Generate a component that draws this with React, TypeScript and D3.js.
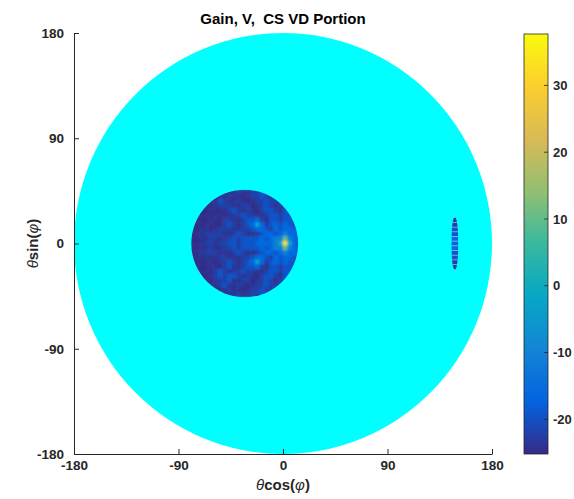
import React, { useEffect, useRef } from 'react'
import * as d3 from 'd3'

// svg size
const svgWidth = 574
const svgHeight = 499

const titleText = 'Gain, V,  CS VD Portion'
const axisTicks = [-180, -90, 0, 90, 180]
const colorTicks = [-20, -10, 0, 10, 20, 30]
const colorDomain = [-25.2, 37.7]

// the whole visible region (drawn cyan, no data)
const outerRadius = 180

// inner gain disk in 4 degree cells
const innerCenter = [-33, 0]
const innerRadius = 46
const cellSize = 4
const gridXStart = -78 // centre of first column
const gridYStart = 44 // centre of first row
const levelValues: Record<string, number> = {
  a: -25.2, b: -24.3, c: -22.5, d: -19.5, e: -16, f: -11, g: -3, h: 10, i: 24, j: 33,
}
const innerRows = [
  'aaaaaaaabbcbbccdccdddddd',
  'aaaaaabbcbbabccdccdddddd',
  'aaaabbdcbbcbabccdcccdddd',
  'aaaaabcccbbccabcdcbcdddd',
  'aaaabaabcdcbcbacddcbdddd',
  'aaababbabccdccbbcddcdddd',
  'aaaabbaccbbcddecbddcdddd',
  'aaabbaacdcbcdegecdededdd',
  'aabbabcccbbccdeedcedeedd',
  'abbccccbbcdcbbcdeedefeed',
  'aabbccbccdcddddedeffhfed',
  'aabccbccddcdddeeeefgjged',
  'aabbcbbccdcddddedeffhfed',
  'abbcccbbbcdcbbcdeedefeed',
  'aabbbbccbbbccdeedcedeedd',
  'aaabbabcdcbcdegecdededdd',
  'aaaabbacdbbcddecbddcdddd',
  'aaabacdcbccdccbbcddcdddd',
  'aaaabcdcddcbcbacddcbdddd',
  'aaaaabccdbbccabcdcbcdddd',
  'aaaabbcdbbcbabccdcccdddd',
  'aaaaaabbcbbabccdccdddddd',
  'aaaaaaaabbcbbccdccdddddd',
]

// small lens on the right side
const lensCenter = [148, 0]
const lensRadii = [3, 23]
const lensYStart = 20
const lensCells = 'ccddeeeddcc'

// parula colormap stops (bottom to top)
const parula = ['#352a87', '#0363e1', '#1485d4', '#06a7c6', '#38b99e', '#92bf73', '#d9ba56', '#fcce2e', '#f9fb0e']

const fontFamily = "'Liberation Sans', Arial, Helvetica, sans-serif"
const ink = '#262626'

function App() {
  const ref = useRef<SVGSVGElement>(null)

  useEffect(() => {
    const svg = d3.select(ref.current)
    svg.selectAll('*').remove()

    const x = d3.scaleLinear().domain([-180, 180]).range([74, 492])
    const y = d3.scaleLinear().domain([-180, 180]).range([454, 33])
    const cb = d3.scaleLinear().domain(colorDomain).range([454, 34])

    const n = parula.length
    const colour = d3.scaleLinear<string>()
      .domain(parula.map((_, i) => colorDomain[0] + (i / (n - 1)) * (colorDomain[1] - colorDomain[0])))
      .range(parula)
      .clamp(true)

    const defs = svg.append('defs')
    defs.append('clipPath').attr('id', 'innerClip')
      .append('ellipse')
      .attr('cx', x(innerCenter[0]))
      .attr('cy', y(innerCenter[1]))
      .attr('rx', x(innerCenter[0] + innerRadius) - x(innerCenter[0]))
      .attr('ry', y(innerCenter[1]) - y(innerCenter[1] + innerRadius))
    defs.append('clipPath').attr('id', 'lensClip')
      .append('ellipse')
      .attr('cx', x(lensCenter[0]))
      .attr('cy', y(lensCenter[1]))
      .attr('rx', x(lensCenter[0] + lensRadii[0]) - x(lensCenter[0]))
      .attr('ry', y(lensCenter[1]) - y(lensCenter[1] + lensRadii[1]))
    defs.append('filter').attr('id', 'soft')
      .attr('x', '-10%').attr('y', '-10%').attr('width', '120%').attr('height', '120%')
      .append('feGaussianBlur').attr('stdDeviation', 1.0)

    const grad = defs.append('linearGradient').attr('id', 'cbGrad')
      .attr('x1', 0).attr('y1', 1).attr('x2', 0).attr('y2', 0)
    parula.forEach((c, i) => {
      grad.append('stop').attr('offset', i / (n - 1)).attr('stop-color', c)
    })

    // outer cyan disk
    svg.append('ellipse')
      .attr('cx', x(0))
      .attr('cy', y(0))
      .attr('rx', x(outerRadius) - x(0))
      .attr('ry', y(0) - y(outerRadius))
      .attr('fill', '#00ffff')

    // inner gain disk
    const cells: { xc: number; yc: number; v: number }[] = []
    innerRows.forEach((row, r) => {
      row.split('').forEach((ch, c) => {
        cells.push({ xc: gridXStart + c * cellSize, yc: gridYStart - r * cellSize, v: levelValues[ch] })
      })
    })
    const half = cellSize / 2
    svg.append('g').attr('clip-path', 'url(#innerClip)')
      .append('g').attr('filter', 'url(#soft)')
      .selectAll('rect')
      .data(cells)
      .enter()
      .append('rect')
      .attr('x', (d) => x(d.xc - half))
      .attr('y', (d) => y(d.yc + half))
      .attr('width', (d) => x(d.xc + half) - x(d.xc - half))
      .attr('height', (d) => y(d.yc - half) - y(d.yc + half))
      .attr('fill', (d) => colour(d.v))
      .attr('stroke', (d) => colour(d.v))
      .attr('stroke-width', 0.5)

    // lens
    const lens = svg.append('g').attr('clip-path', 'url(#lensClip)')
    const lensData = lensCells.split('').map((ch, i) => ({ yc: lensYStart - i * cellSize, v: levelValues[ch] }))
    lens.selectAll('rect')
      .data(lensData)
      .enter()
      .append('rect')
      .attr('x', x(lensCenter[0] - lensRadii[0]))
      .attr('width', x(lensCenter[0] + lensRadii[0]) - x(lensCenter[0] - lensRadii[0]))
      .attr('y', (d) => y(d.yc + half))
      .attr('height', (d) => y(d.yc - half) - y(d.yc + half))
      .attr('fill', (d) => colour(d.v))
    lens.selectAll('line')
      .data(lensData.slice(1))
      .enter()
      .append('line')
      .attr('x1', x(lensCenter[0] - lensRadii[0]))
      .attr('x2', x(lensCenter[0] + lensRadii[0]))
      .attr('y1', (d) => y(d.yc + half))
      .attr('y2', (d) => y(d.yc + half))
      .attr('stroke', '#ffffff')
      .attr('stroke-opacity', 0.6)
      .attr('stroke-width', 0.7)

    // axes
    const fmt = (d: d3.NumberValue) => String(d)
    const xAxis = d3.axisBottom(x).tickValues(axisTicks).tickFormat(fmt).tickSize(-5).tickSizeOuter(0).tickPadding(6)
    const yAxis = d3.axisLeft(y).tickValues(axisTicks).tickFormat(fmt).tickSize(-5).tickSizeOuter(0).tickPadding(10)

    const gx = svg.append('g').attr('transform', `translate(0,${y(-180)})`).call(xAxis)
    const gy = svg.append('g').attr('transform', `translate(${x(-180)},0)`).call(yAxis)
    ;[gx, gy].forEach((g) => {
      g.selectAll('path, line').attr('stroke', ink).attr('stroke-width', 1)
      g.selectAll('text')
        .attr('fill', ink)
        .attr('font-family', fontFamily)
        .attr('font-weight', 'bold')
        .attr('font-size', 13.5)
    })

    // colourbar
    const cbX = 524
    const cbW = 24
    svg.append('rect')
      .attr('x', cbX)
      .attr('y', cb(colorDomain[1]))
      .attr('width', cbW)
      .attr('height', cb(colorDomain[0]) - cb(colorDomain[1]))
      .attr('fill', 'url(#cbGrad)')
      .attr('stroke', ink)
      .attr('stroke-width', 0.8)
    svg.selectAll('.cbtick')
      .data(colorTicks)
      .enter()
      .append('line')
      .attr('x1', cbX + cbW - 4)
      .attr('x2', cbX + cbW)
      .attr('y1', (d) => cb(d))
      .attr('y2', (d) => cb(d))
      .attr('stroke', ink)
      .attr('stroke-width', 0.8)
    svg.selectAll('.cblabel')
      .data(colorTicks)
      .enter()
      .append('text')
      .attr('x', cbX + cbW + 5)
      .attr('y', (d) => cb(d))
      .attr('dy', '0.35em')
      .attr('fill', ink)
      .attr('font-family', fontFamily)
      .attr('font-weight', 'bold')
      .attr('font-size', 13)
      .text((d) => String(d))

    // title
    svg.append('text')
      .attr('x', x(0))
      .attr('y', 24)
      .attr('text-anchor', 'middle')
      .attr('font-family', fontFamily)
      .attr('font-weight', 'bold')
      .attr('font-size', 15)
      .attr('fill', '#000')
      .style('white-space', 'pre')
      .text(titleText)

    // axis labels
    const xl = svg.append('text')
      .attr('x', x(0))
      .attr('y', 490)
      .attr('text-anchor', 'middle')
      .attr('font-family', fontFamily)
      .attr('font-weight', 'bold')
      .attr('font-size', 15)
      .attr('fill', ink)
    xl.append('tspan').attr('font-style', 'italic').attr('font-weight', 'normal').text('θ')
    xl.append('tspan').text('cos(')
    xl.append('tspan').attr('font-style', 'italic').attr('font-weight', 'normal').text('φ')
    xl.append('tspan').text(')')

    const yl = svg.append('text')
      .attr('transform', `translate(38,${y(0)}) rotate(-90)`)
      .attr('text-anchor', 'middle')
      .attr('font-family', fontFamily)
      .attr('font-weight', 'bold')
      .attr('font-size', 15)
      .attr('fill', ink)
    yl.append('tspan').attr('font-style', 'italic').attr('font-weight', 'normal').text('θ')
    yl.append('tspan').text('sin(')
    yl.append('tspan').attr('font-style', 'italic').attr('font-weight', 'normal').text('φ')
    yl.append('tspan').text(')')
  }, [])

  return (
    <div className="wrapper">
      <svg ref={ref} width={svgWidth} height={svgHeight} style={{ position: 'absolute', left: 0, top: 0 }} />
    </div>
  )
}

export default App
